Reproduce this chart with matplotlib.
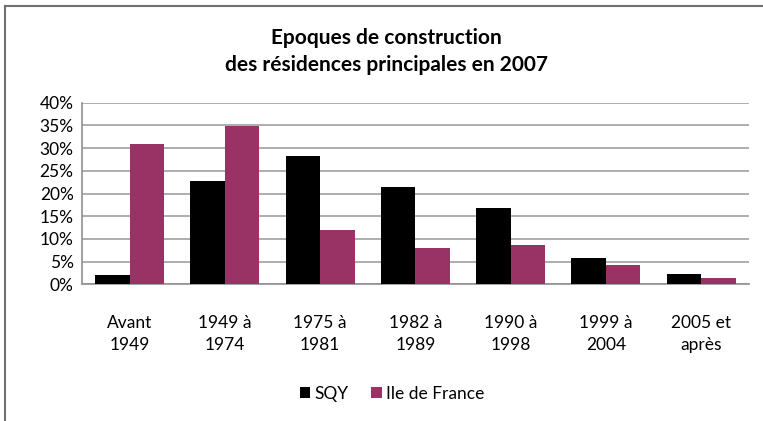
import matplotlib
matplotlib.use("Agg")
import matplotlib.pyplot as plt
from matplotlib.lines import Line2D
from matplotlib.ticker import FuncFormatter
import numpy as np

plt.rcParams['font.family'] = ['Lato', 'DejaVu Sans']

periodes = ["Avant\n1949", "1949 à\n1974", "1975 à\n1981", "1982 à\n1989",
            "1990 à\n1998", "1999 à\n2004", "2005 et\naprès"]
sqy = [2.1, 22.8, 28.2, 21.5, 16.8, 5.8, 2.3]
idf = [31.0, 34.9, 12.0, 7.9, 8.6, 4.3, 1.3]

fig = plt.figure(figsize=(7.63, 4.21), dpi=100)
ax = fig.add_axes([0.1075, 0.3247, 0.874, 0.4313])

x = np.arange(len(periodes))
w = 0.362
ax.bar(x - w / 2, sqy, w, color='black', label='SQY', zorder=3)
ax.bar(x + w / 2, idf, w, color='#993366', label='Ile de France', zorder=3)

ax.set_xlim(-0.5, len(periodes) - 0.5)
ax.set_ylim(0, 40)
ax.set_yticks(np.arange(0, 41, 5))
ax.yaxis.set_major_formatter(FuncFormatter(lambda v, p: f"{v:.0f}%"))
ax.set_xticks(x)
ax.set_xticklabels(periodes, fontsize=12.5, linespacing=1.45)
ax.tick_params(axis='y', labelsize=12.5, length=0, pad=6)
ax.tick_params(axis='x', length=0, pad=22)
ax.grid(axis='y', color='#a0a0a0', linewidth=1.2, zorder=0)

for s in ['top', 'right']:
    ax.spines[s].set_visible(False)
for s in ['left', 'bottom']:
    ax.spines[s].set_color('#909090')
    ax.spines[s].set_linewidth(1.2)

fig.text(0.507, 0.878, "Epoques de construction\ndes résidences principales en 2007",
         ha='center', va='center', fontsize=15, fontweight='bold', linespacing=1.45)

ax.legend(loc='center', bbox_to_anchor=(0.514, 0.065), bbox_transform=fig.transFigure,
          ncol=2, frameon=False, fontsize=12.5, handlelength=0.6, handleheight=0.6,
          handletextpad=0.25, columnspacing=1.3)

# cadre du graphique (haut et gauche)
fig.add_artist(Line2D([0.007, 1.0], [0.986, 0.986], color='#707070', linewidth=1.5))
fig.add_artist(Line2D([0.007, 0.007], [0.0, 0.986], color='#707070', linewidth=1.5))

fig.savefig("out.png", dpi=100)
